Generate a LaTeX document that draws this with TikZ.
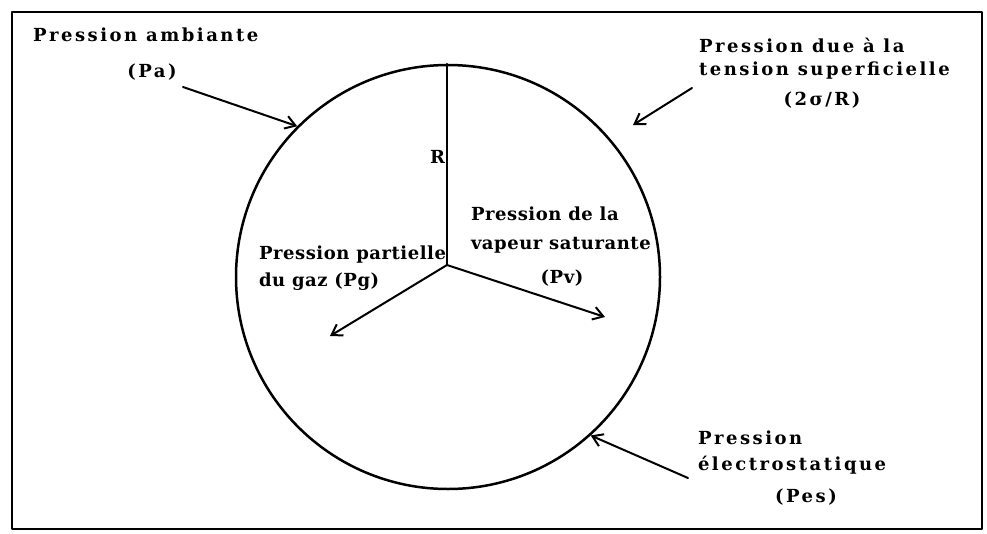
\documentclass[tikz,border=0pt]{standalone}
\usepackage{fontspec}
\newfontfamily\outerfont{DejaVu Serif}[LetterSpace=14]
\newfontfamily\innerfont{DejaVu Serif}[LetterSpace=3]
\usetikzlibrary{arrows.meta}

\begin{document}
\begin{tikzpicture}[x=1pt, y=-1pt, line width=2pt, line cap=round, line join=round,
    every node/.style={inner sep=0pt},
    outlabel/.style={font=\outerfont\bfseries\fontsize{18}{22}\selectfont},
    inlabel/.style={font=\innerfont\bfseries\fontsize{18}{22}\selectfont},
    force/.style={-{Straight Barb[length=10pt, width=13pt]}}]
    \def\rad{212}

    \useasboundingbox (0,0) rectangle (987,533);
    \draw (12,12) rectangle (982,529);

    % the bubble and its radius
    \node[circle, draw, line width=2.5pt, minimum size=2*\rad pt] (bubble) at (448,277) {};
    \coordinate (O) at (447,265);
    \draw (O) -- (O |- bubble.north);
    \node[inlabel, anchor=east] (rlab) at (446,157) {R};

    % pressures inside
    \coordinate (pvtip) at (605,317);
    \coordinate (pgtip) at (330,336);
    \draw[force] (O) -- (pvtip);
    \draw[force] (O) -- (pgtip);
    \node[inlabel, anchor=west] (pv1) at (470,214) {Pression de la};
    \node[inlabel, anchor=west] (pv2) at (470,245) {vapeur saturante};
    \node[inlabel] (pv3) at (562,278) {(Pv)};
    \node[inlabel, anchor=west] (pg1) at (258,255) {Pression partielle};
    \node[inlabel, anchor=west] (pg2) at (258,282) {du gaz (Pg)};

    % pressures outside
    \node[outlabel, anchor=west] (pa1) at (32,35) {Pression ambiante};
    \node[outlabel] (pa2) at (152,72) {(Pa)};
    \coordinate (pastart) at (183,87);
    \draw[force] (pastart) -- (bubble.135);

    \node[outlabel, anchor=west] (st1) at (698,45) {Pression due à la};
    \node[outlabel, anchor=west] (st2) at (698,71) {tension superficielle};
    \node[outlabel] (st3) at (822,100) {(2σ/R)};
    \coordinate (ststart) at (692,88);
    \coordinate (sttip) at (633,125);
    \draw[force] (ststart) -- (sttip);

    \node[outlabel, anchor=west] (pes1) at (697,438) {Pression};
    \node[outlabel, anchor=west] (pes2) at (697,465) {électrostatique};
    \node[outlabel] (pes3) at (806,497) {(Pes)};
    \coordinate (pesstart) at (688,478);
    \draw[force] (pesstart) -- (bubble.-48);
\end{tikzpicture}
\end{document}
